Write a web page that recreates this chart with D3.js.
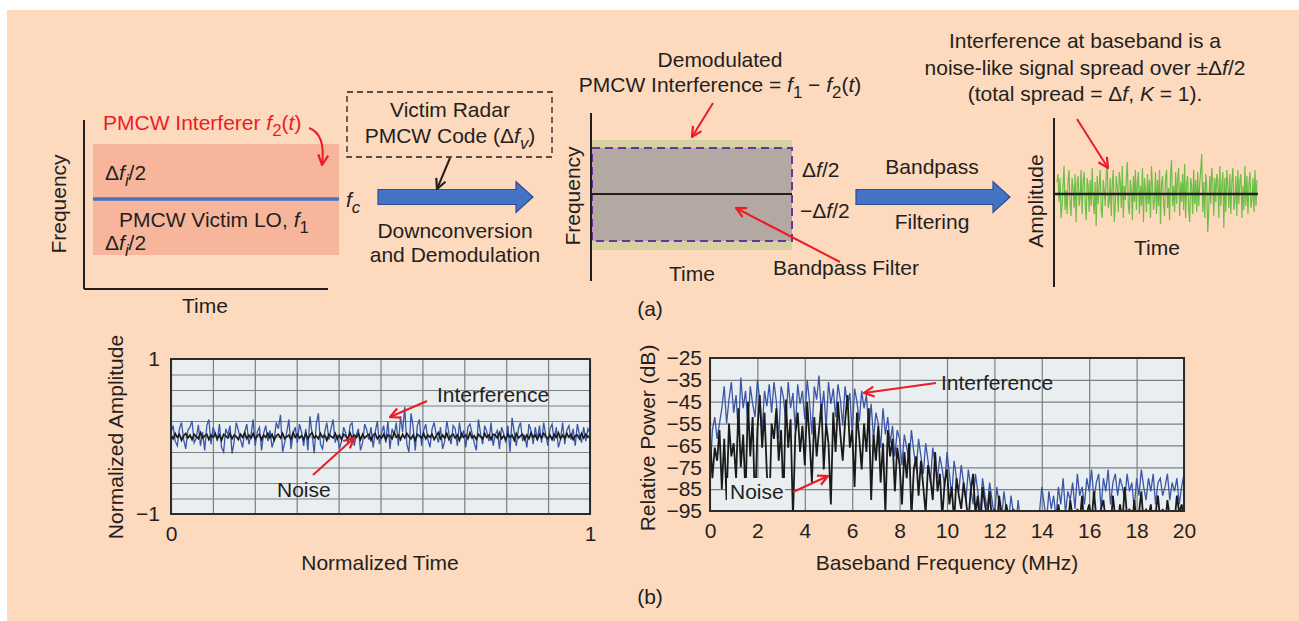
<!DOCTYPE html>
<html>
<head>
<meta charset="utf-8">
<script src="https://cdn.jsdelivr.net/npm/d3@7"></script>
<style>
  body { margin: 0; background: #fff; }
  text { font-family: "Liberation Sans", Arial, sans-serif; fill: #231f20; }
</style>
</head>
<body>
<svg id="fig"></svg>
<script>
// ---- data ----
// (b) left: normalized amplitude vs normalized time
const timeInterference = [
  .05,.14,-.06,-.12,.10,.18,-.04,-.16,.08,.12,.20,-.08,-.02,.15,-.12,.06,-.18,.14,.22,-.10,
  .12,.04,-.06,.16,-.14,-.20,.10,.02,.14,-.22,-.06,.18,.08,-.04,-.14,.06,.16,-.10,.02,.22,
  -.12,.06,.12,-.18,.04,.14,-.06,.08,-.14,-.04,.18,.10,.28,-.20,-.08,.06,.22,-.16,.04,.12,
  -.08,.16,.06,-.12,.10,-.18,.26,.04,-.22,.16,.30,-.10,-.16,.06,.18,-.04,.10,.22,-.08,.02,
  -.16,-.06,.12,.04,-.10,.14,.18,-.12,.02,.10,-.18,-.08,.16,.08,-.04,.12,-.14,.06,.20,-.10,
  .04,.14,-.08,.20,-.16,.10,.02,.18,-.12,.26,.06,.38,-.10,-.20,.30,.12,-.18,.14,.22,-.12,
  .08,.16,-.04,-.14,.10,.18,.02,-.08,.12,-.16,-.06,.20,.04,-.10,.14,.10,-.12,.18,-.02,.08,
  -.14,.12,.16,.04,-.08,-.18,.22,.04,-.10,.14,.06,-.06,.18,-.12,.02,.08,-.16,.12,.04,-.08,
  .14,-.20,.24,.06,-.12,.10,.18,-.06,.02,-.14,.16,.08,-.10,.12,-.04,.14,-.08,.18,.02,-.12,
  .10,.16,-.06,.12,-.14,-.04,.18,-.10,.08,.14,-.04,.10,-.12,.16,.02,-.08,.12,-.06,.10,.04
];
const timeNoise = [
  .02,-.03,.04,-.01,.03,-.05,.01,.04,-.02,.02,-.04,.03,.00,-.03,.05,-.02,.01,.03,-.04,.02,
  -.01,.04,-.03,.02,-.05,.03,.01,-.02,.04,-.03,.02,.00,-.04,.03,-.01,.05,-.03,.02,-.02,.04,
  -.03,.01,.03,-.04,.02,-.01,.04,-.02,.03,-.05,.01,.03,-.02,.04,-.03,.00,.02,-.04,.05,-.01,
  .03,-.02,.01,-.04,.04,-.03,.02,.05,-.02,.01,-.03,.04,-.01,.02,-.05,.03,.00,-.02,.04,-.03,
  .02,-.04,.03,.01,-.03,.05,-.02,.02,-.01,.04,-.04,.03,-.02,.01,.03,-.05,.02,.04,-.03,.01,
  -.02,.03,-.04,.02,.01,-.03,.05,-.01,.02,-.04,.03,-.02,.04,.00,-.03,.02,-.05,.03,.01,-.02,
  .04,-.03,.02,-.01,.03,-.04,.01,.05,-.03,.02,-.02,.04,-.04,.01,.03,-.02,.02,-.05,.04,-.01,
  .02,-.03,.05,-.02,.01,-.04,.03,.00,-.03,.04,-.01,.02,-.04,.03,.02,-.02,.05,-.03,.01,-.04,
  .03,-.01,.02,-.05,.04,-.02,.01,.03,-.04,.02,-.03,.05,-.01,.02,-.04,.03,-.02,.04,.00,-.03,
  .02,-.04,.03,-.01,.05,-.03,.02,-.02,.04,-.01,.03,-.04,.01,.02,-.03,.04,-.02,.03,-.01,.02
];
const timeXLabels = [0, 1];
const timeYLabels = [1, -1];

// (b) right: relative power (dB), one value every 0.1 MHz from 0 to 20 MHz
const freqStep = 0.1;
const specInterference = [
  -80,-58,-52,-62,-55,-48,
  -38,-55,-44,-36,-50,-42,-60,-34,-48,-40,
  -56,-38,-46,-52,-35,-44,-58,-40,-47,-37,
  -50,-36,-45,-62,-38,-43,-55,-36,-48,-41,
  -58,-37,-46,-40,-53,-35,-45,-60,-38,-44,
  -33,-50,-40,-57,-36,-46,-39,-52,-37,-44,
  -56,-38,-47,-41,-60,-39,-45,-54,-40,-48,
  -42,-58,-46,-62,-50,-55,-66,-48,-60,-52,
  -64,-56,-70,-58,-62,-74,-60,-66,-72,-58,
  -68,-76,-62,-70,-78,-64,-72,-82,-66,-74,
  -80,-70,-76,-84,-68,-78,-88,-72,-80,-86,
  -74,-82,-90,-76,-84,-92,-78,-86,-96,-80,
  -88,-94,-82,-90,-98,-84,-92,-100,-86,-94,
  -100,-88,-96,-104,-90,-100,-110,-110,-110,-110,
  -110,-110,-110,-96,-84,-92,-100,-86,-94,-88,
  -98,-84,-92,-80,-96,-86,-90,-82,-94,-78,
  -88,-84,-92,-80,-86,-76,-90,-82,-78,-94,
  -80,-86,-76,-92,-82,-78,-88,-80,-84,-90,
  -78,-86,-82,-94,-80,-88,-76,-84,-90,-80,
  -86,-78,-92,-82,-80,-88,-84,-78,-90,-82,
  -86,-80,-92,-84,-78
];
const specNoise = [
  -60,-80,-66,-72,-58,-85,
  -62,-90,-55,-70,-64,-80,-48,-75,-60,-88,
  -45,-70,-52,-95,-58,-42,-66,-50,-78,-96,
  -55,-62,-48,-72,-58,-90,-44,-66,-53,-98,
  -60,-50,-68,-56,-74,-45,-62,-82,-52,-70,
  -58,-46,-76,-55,-64,-92,-50,-68,-45,-60,
  -72,-54,-42,-66,-58,-84,-50,-62,-76,-55,
  -68,-48,-90,-60,-72,-56,-82,-64,-96,-58,
  -70,-62,-86,-66,-74,-92,-68,-80,-64,-98,
  -76,-70,-88,-72,-84,-96,-74,-80,-90,-68,
  -86,-78,-98,-82,-76,-92,-84,-100,-80,-88,
  -94,-82,-90,-100,-86,-78,-96,-88,-104,-84,
  -92,-98,-86,-100,-94,-104,-88,-96,-100,-92,
  -98,-104,-94,-100,-108,-96,-102,-110,-98,-104,
  -110,-100,-106,-96,-104,-110,-98,-106,-100,-96,
  -104,-92,-100,-108,-96,-102,-90,-98,-106,-94,
  -100,-88,-104,-96,-92,-100,-86,-98,-106,-94,
  -90,-100,-96,-104,-88,-98,-102,-92,-100,-84,
  -98,-94,-104,-90,-100,-96,-86,-102,-94,-98,
  -92,-104,-96,-88,-100,-94,-102,-90,-98,-96,
  -100,-88,-96,-92,-98
];
const specXTicks = [0, 2, 4, 6, 8, 10, 12, 14, 16, 18, 20];
const specYTicks = [-25, -35, -45, -55, -65, -75, -85, -95];

// (a) right: baseband interference sketch (arbitrary units)
const basebandSignal = [
  .3,.5,-.2,.4,-.6,-.3,.2,.7,-.4,.1,-.5,.35,.6,-.25,-.55,.4,.15,-.35,.5,-.7,
  .25,.45,-.3,-.1,.6,-.5,.3,.55,-.2,-.65,.4,.2,-.45,.35,-.3,.65,-.15,-.5,.3,-.8,
  .45,-.25,.2,.6,-.4,-.6,.35,.1,-.3,.5,.75,-.35,-.2,.4,-.55,.25,.6,-.7,-.25,.45,
  .15,-.45,.55,.3,-.35,.7,-.6,.2,-.15,.4,.8,-.3,-.5,.35,.1,-.65,.45,-.2,.6,-.4,
  .3,.55,-.5,.2,-.3,.65,-.7,.4,.1,-.45,.5,-.25,.35,-.6,.7,.2,-.4,-.15,.55,-.5,
  .35,-.3,.6,-.75,.25,.45,-.2,-.55,.4,.6,-.35,.15,-.65,.5,.85,-.3,.2,-.45,.55,-.25,
  .4,.65,-.55,.3,-.2,.5,-.4,.75,-.6,.25,.45,-.35,-.7,.4,.2,-.5,.6,-.25,.35,-.45,
  .55,-.3,.25,.6,1.0,-.45,.3,-.6,.5,.2,-.95,-.4,.45,-.25,.65,.3,-.55,.4,-.2,.5,
  .35,-.6,.7,-.3,.2,.55,-.85,.4,-.45,.6,.25,-.35,.5,-.5,.3,.65,-.4,-.2,.45,-.55,
  .6,-.25,.35,.5,-.6,.2,-.4,.7,-.3,.45,-.5,.25,.55,-.35,-.15,.4,-.45,.6,-.3,.35
];

// ---- drawing ----
const W = 1299, H = 621, FS = 21;
const RED = "#ed1c24", SIGBLUE = "#3a56a8";
const svg = d3.select("#fig").attr("width", W).attr("height", H);

svg.append("rect").attr("x", 7).attr("y", 10).attr("width", W - 7).attr("height", H - 10)
  .attr("fill", "#fdd9be");

const defs = svg.append("defs");
function head(id, color) {
  defs.append("marker").attr("id", id)
    .attr("viewBox", "0 0 12 12").attr("refX", 11).attr("refY", 6)
    .attr("markerWidth", 12).attr("markerHeight", 12)
    .attr("markerUnits", "userSpaceOnUse").attr("orient", "auto")
    .append("path").attr("d", "M1,1 L11,6 L1,11")
    .attr("fill", "none").attr("stroke", color).attr("stroke-width", 2.2);
}
head("redHead", RED);
head("blackHead", "#231f20");

// text made of parts: "plain", ["f","i"] italic, ["2","s"] subscript, ["i","is"] both
function rich(x, y, parts, opts = {}) {
  const t = svg.append("text").attr("x", x).attr("y", y)
    .attr("font-size", opts.size || FS)
    .attr("text-anchor", opts.anchor || "start");
  if (opts.color) t.style("fill", opts.color);
  let shift = 0;
  parts.forEach(p => {
    const [s, st] = typeof p === "string" ? [p, ""] : p;
    const ts = t.append("tspan").text(s);
    if (opts.color) ts.style("fill", opts.color);
    if (st.includes("i")) ts.attr("font-style", "italic");
    const want = st.includes("s") ? 6 : 0;
    if (want !== shift) { ts.attr("dy", want - shift); shift = want; }
    if (st.includes("s")) ts.attr("font-size", (opts.size || FS) * 0.8);
  });
  return t;
}
function vlabel(x, y, s) {
  svg.append("text").attr("transform", `translate(${x},${y}) rotate(-90)`)
    .attr("text-anchor", "middle").attr("font-size", FS).text(s);
}
function line(x1, y1, x2, y2, color, w, marker) {
  const l = svg.append("line").attr("x1", x1).attr("y1", y1).attr("x2", x2).attr("y2", y2)
    .attr("stroke", color).attr("stroke-width", w);
  if (marker) l.attr("marker-end", `url(#${marker})`);
  return l;
}
function blockArrow(x0, x1, cy) {
  const b = 7.5, h = 15.5, hl = 17;
  const pts = [[x0, cy - b], [x1 - hl, cy - b], [x1 - hl, cy - h], [x1, cy],
               [x1 - hl, cy + h], [x1 - hl, cy + b], [x0, cy + b]];
  svg.append("path").attr("d", d3.line()(pts) + "Z")
    .attr("fill", "#4472c4").attr("stroke", "#2e4f8f").attr("stroke-width", 1.2);
}

// ---------- (a) panel 1: frequency vs time ----------
svg.append("rect").attr("x", 93).attr("y", 144).attr("width", 246).attr("height", 111)
  .attr("fill", "#f7b69c");
line(93, 199, 339, 199, "#4472c4", 3.5);
line(84, 120, 84, 289, "#231f20", 2);
line(84, 289, 328, 289, "#231f20", 2);
rich(103, 130, ["PMCW Interferer ", ["f", "i"], ["2", "s"], "(", ["t", "i"], ")"], { color: RED });
svg.append("path").attr("d", "M309,128 Q326,134 322,165")
  .attr("fill", "none").attr("stroke", RED).attr("stroke-width", 2)
  .attr("marker-end", "url(#redHead)");
rich(105, 180, ["Δ", ["f", "i"], ["i", "is"], "/2"]);
rich(119, 227, ["PMCW Victim LO, ", ["f", "i"], ["1", "s"]]);
rich(105, 250, ["Δ", ["f", "i"], ["i", "is"], "/2"]);
rich(346, 207, [["f", "i"], ["c", "is"]]);
vlabel(66, 204, "Frequency");
svg.append("text").attr("x", 205).attr("y", 313).attr("text-anchor", "middle")
  .attr("font-size", FS).text("Time");

// dashed code box and first block arrow
svg.append("rect").attr("x", 347).attr("y", 92).attr("width", 205).attr("height", 65)
  .attr("fill", "none").attr("stroke", "#231f20").attr("stroke-width", 1.3)
  .attr("stroke-dasharray", "6,4");
rich(450, 117, ["Victim Radar"], { anchor: "middle" });
rich(450, 143, ["PMCW Code (Δ", ["f", "i"], ["v", "is"], ")"], { anchor: "middle" });
blockArrow(378, 533, 197);
line(450, 158, 437, 189, "#231f20", 2, "blackHead");
rich(455, 238, ["Downconversion"], { anchor: "middle" });
rich(455, 262, ["and Demodulation"], { anchor: "middle" });

// ---------- (a) panel 2: demodulated interference ----------
svg.append("rect").attr("x", 591).attr("y", 140).attr("width", 201).attr("height", 110)
  .attr("fill", "#d6d1a3");
svg.append("rect").attr("x", 592).attr("y", 148).attr("width", 200).attr("height", 93)
  .attr("fill", "#b4a8a2").attr("stroke", "#7030a0").attr("stroke-width", 2)
  .attr("stroke-dasharray", "8,5");
line(591, 194, 792, 194, "#231f20", 2);
line(591, 113, 591, 281, "#231f20", 2);
vlabel(580, 196, "Frequency");
svg.append("text").attr("x", 692).attr("y", 281).attr("text-anchor", "middle")
  .attr("font-size", FS).text("Time");
rich(720, 67, ["Demodulated"], { anchor: "middle" });
rich(720, 92, ["PMCW Interference = ", ["f", "i"], ["1", "s"], " − ", ["f", "i"], ["2", "s"], "(", ["t", "i"], ")"],
  { anchor: "middle" });
line(713, 103, 692, 137, RED, 2, "redHead");
rich(802, 177, ["Δ", ["f", "i"], "/2"]);
rich(800, 218, ["−Δ", ["f", "i"], "/2"]);
rich(846, 275, ["Bandpass Filter"], { anchor: "middle" });
line(840, 262, 736, 208, RED, 2, "redHead");

blockArrow(856, 1010, 197);
rich(932, 174, ["Bandpass"], { anchor: "middle" });
rich(932, 229, ["Filtering"], { anchor: "middle" });

// ---------- (a) panel 3: baseband amplitude ----------
rich(1085, 48, ["Interference at baseband is a"], { anchor: "middle" });
rich(1085, 75, ["noise-like signal spread over ±Δ", ["f", "i"], "/2"], { anchor: "middle" });
rich(1085, 101, ["(total spread = Δ", ["f", "i"], ", ", ["K", "i"], " = 1)."], { anchor: "middle" });
const gx = d3.scaleLinear().domain([0, basebandSignal.length - 1]).range([1057, 1257]);
const gy = d3.scaleLinear().domain([-1, 1]).range([234, 154]);
svg.append("path").datum(basebandSignal)
  .attr("d", d3.line().x((d, i) => gx(i)).y(d => gy(d)))
  .attr("fill", "none").attr("stroke", "#6dbe45").attr("stroke-width", 1.2);
line(1054, gy(0), 1258, gy(0), "#231f20", 2.5);
line(1054, 118, 1054, 287, "#231f20", 2);
vlabel(1043, 201, "Amplitude");
svg.append("text").attr("x", 1157).attr("y", 255).attr("text-anchor", "middle")
  .attr("font-size", FS).text("Time");
line(1077, 119, 1108, 168, RED, 2, "redHead");
svg.append("text").attr("x", 650).attr("y", 316).attr("text-anchor", "middle")
  .attr("font-size", FS).text("(a)");

// ---------- plot helper for (b) ----------
function plotFrame(id, x, y, xGrid, yGrid) {
  const [x0, x1] = x.range(), [y1, y0] = y.range();
  svg.append("clipPath").attr("id", id).append("rect")
    .attr("x", x0).attr("y", y0).attr("width", x1 - x0).attr("height", y1 - y0);
  svg.append("rect").attr("x", x0).attr("y", y0).attr("width", x1 - x0).attr("height", y1 - y0)
    .attr("fill", "#e9eef0");
  const gg = svg.append("g").attr("class", "grid");
  gg.append("g").attr("transform", `translate(0,${y1})`)
    .call(d3.axisBottom(x).tickValues(xGrid).tickSize(-(y1 - y0)).tickFormat(""));
  gg.append("g").attr("transform", `translate(${x0},0)`)
    .call(d3.axisLeft(y).tickValues(yGrid).tickSize(-(x1 - x0)).tickFormat(""));
  gg.selectAll(".domain").remove();
  gg.selectAll("line").attr("stroke", "#7f7f7f").attr("stroke-width", 1.2);
  return svg.append("g").attr("clip-path", `url(#${id})`);
}
function plotBorder(x, y) {
  const [x0, x1] = x.range(), [y1, y0] = y.range();
  svg.append("rect").attr("x", x0).attr("y", y0).attr("width", x1 - x0).attr("height", y1 - y0)
    .attr("fill", "none").attr("stroke", "#2b2b2b").attr("stroke-width", 2);
}
function styleAxis(g) {
  g.select(".domain").remove();
  g.selectAll("text").attr("font-size", FS).attr("font-family", null).style("fill", "#231f20");
}

// ---------- (b) left: time domain ----------
const xT = d3.scaleLinear().domain([0, 1]).range([171, 590]);
const yT = d3.scaleLinear().domain([-1, 1]).range([514, 359]);
const pT = plotFrame("clipT", xT, yT, xT.ticks(10), yT.ticks(10));
const tLine = d3.line().x((d, i, a) => xT(i / (a.length - 1))).y(d => yT(d));
pT.append("path").attr("d", tLine(timeInterference))
  .attr("fill", "none").attr("stroke", SIGBLUE).attr("stroke-width", 1.3);
pT.append("path").attr("d", tLine(timeNoise))
  .attr("fill", "none").attr("stroke", "#1a1a1a").attr("stroke-width", 1.6);
plotBorder(xT, yT);
svg.append("g").attr("transform", "translate(0,514)")
  .call(d3.axisBottom(xT).tickValues(timeXLabels).tickSize(0).tickPadding(12).tickFormat(d3.format("d")))
  .call(styleAxis);
svg.append("g").attr("transform", "translate(171,0)")
  .call(d3.axisLeft(yT).tickValues(timeYLabels).tickSize(0).tickPadding(11).tickFormat(d3.format("d")))
  .call(styleAxis);
vlabel(123, 437, "Normalized Amplitude");
svg.append("text").attr("x", 380).attr("y", 570).attr("text-anchor", "middle")
  .attr("font-size", FS).text("Normalized Time");
rich(437, 402, ["Interference"]);
line(427, 401, 390, 417, RED, 2, "redHead");
rich(277, 497, ["Noise"]);
line(313, 475, 354, 438, RED, 2, "redHead");

// ---------- (b) right: spectrum ----------
const xF = d3.scaleLinear().domain([0, 20]).range([710, 1184]);
const yF = d3.scaleLinear().domain([-95, -25]).range([511, 358]);
const pF = plotFrame("clipF", xF, yF, specXTicks, specYTicks);
const fLine = d3.line().x((d, i) => xF(i * freqStep)).y(d => yF(d));
pF.append("path").attr("d", fLine(specInterference))
  .attr("fill", "none").attr("stroke", SIGBLUE).attr("stroke-width", 1.3);
pF.append("path").attr("d", fLine(specNoise))
  .attr("fill", "none").attr("stroke", "#1a1a1a").attr("stroke-width", 1.8);
// clear patch behind the "Noise" label
pF.append("rect").attr("x", 727).attr("y", 478).attr("width", 58).attr("height", 33)
  .attr("fill", "#e9eef0");
plotBorder(xF, yF);
svg.append("g").attr("transform", "translate(0,511)")
  .call(d3.axisBottom(xF).tickValues(specXTicks).tickSize(0).tickPadding(12).tickFormat(d3.format("d")))
  .call(styleAxis);
svg.append("g").attr("transform", "translate(710,0)")
  .call(d3.axisLeft(yF).tickValues(specYTicks).tickSize(0).tickPadding(8).tickFormat(d3.format("d")))
  .call(styleAxis);
vlabel(655, 438, "Relative Power (dB)");
svg.append("text").attr("x", 947).attr("y", 570).attr("text-anchor", "middle")
  .attr("font-size", FS).text("Baseband Frequency (MHz)");
rich(941, 390, ["Interference"]);
line(936, 383, 864, 393, RED, 2, "redHead");
rich(730, 499, ["Noise"]);
line(793, 492, 828, 476, RED, 2, "redHead");
svg.append("text").attr("x", 650).attr("y", 604).attr("text-anchor", "middle")
  .attr("font-size", FS).text("(b)");
</script>
</body>
</html>
